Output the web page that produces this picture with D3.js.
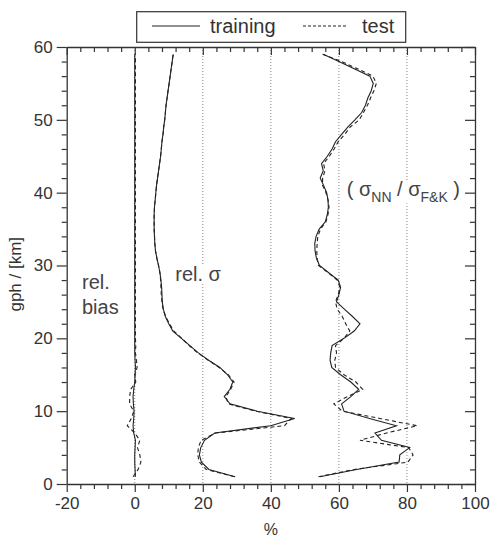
<!DOCTYPE html>
<html>
<head>
<meta charset="utf-8">
<script src="https://cdn.jsdelivr.net/npm/d3@7"></script>
<style>
  body { margin: 0; background: #fff; }
  svg { font-family: "Liberation Sans", Arial, sans-serif; }
</style>
</head>
<body>
<div id="chart"></div>
<script>
// altitude levels (km)
const gph = d3.range(1, 60);

// relative bias (%)
const biasTrain = [0.2, 0.1, 0.0, 0.0, 0.1, 0.2, -0.3, -0.5, -0.3, -0.2,
  -0.4, -0.5, -0.3, 0.0, 0.1, 0.2, 0.1, 0.0, 0.0, 0.0,
  0.0, 0.0, 0.0, 0.0, 0.0, 0.0, 0.0, 0.0, 0.0, 0.0,
  0.0, 0.0, 0.0, 0.0, 0.0, 0.0, 0.0, 0.0, 0.0, 0.0,
  0.0, 0.0, 0.0, 0.0, 0.0, 0.0, 0.0, 0.0, 0.0, 0.0,
  0.0, 0.0, 0.0, 0.0, 0.0, 0.0, 0.0, 0.0, 0.0];
const biasTest = [-0.5, 1.0, 1.8, 1.5, 0.8, 1.5, 0.0, -2.2, -1.0, -0.3,
  -1.5, -1.5, -1.2, 0.3, 0.0, 0.7, 0.5, 0.2, 0.3, 0.2,
  0.2, 0.2, 0.2, 0.2, 0.2, 0.2, 0.2, 0.2, 0.2, 0.2,
  0.2, 0.2, 0.2, 0.2, 0.2, 0.2, 0.2, 0.2, 0.2, 0.2,
  0.2, 0.2, 0.2, 0.2, 0.2, 0.2, 0.2, 0.2, 0.2, 0.2,
  0.2, 0.2, 0.2, 0.2, 0.2, 0.2, 0.2, 0.2, 0.2];

// relative sigma (%)
const sigmaTrain = [29.5, 21.8, 19.6, 19.0, 19.4, 20.5, 23.5, 40.0, 47.0, 36.0,
  28.0, 26.3, 28.0, 28.8, 27.3, 25.0, 21.7, 18.7, 16.2, 13.7,
  11.2, 10.0, 9.0, 8.4, 8.1, 8.0, 7.9, 7.7, 7.4, 7.0,
  6.5, 6.1, 5.9, 5.8, 5.7, 5.7, 5.7, 5.8, 6.0, 6.2,
  6.4, 6.7, 7.0, 7.3, 7.6, 7.8, 8.0, 8.3, 8.5, 8.8,
  9.0, 9.2, 9.5, 9.8, 10.1, 10.4, 10.7, 11.0, 11.3];
const sigmaTest = [29.3, 21.0, 19.0, 18.5, 18.7, 19.5, 23.8, 44.0, 46.0, 35.5,
  27.5, 26.8, 28.2, 29.2, 27.5, 24.8, 21.6, 18.5, 16.0, 13.8,
  11.5, 10.2, 9.1, 8.3, 8.0, 7.8, 7.7, 7.6, 7.4, 7.0,
  6.5, 6.1, 5.9, 5.8, 5.7, 5.7, 5.7, 5.8, 6.0, 6.2,
  6.4, 6.7, 7.0, 7.3, 7.6, 7.8, 8.0, 8.3, 8.5, 8.8,
  9.0, 9.2, 9.5, 9.8, 10.1, 10.4, 10.7, 11.0, 11.3];

// ratio sigma_NN / sigma_F&K (%)
const ratioTrain = [54.4, 65.2, 77.7, 77.9, 80.8, 72.5, 70.6, 76.9, 69.0, 61.5,
  60.8, 63.5, 65.8, 63.5, 60.5, 57.9, 57.4, 57.6, 58.0, 61.5,
  64.5, 66.2, 64.0, 61.6, 59.3, 60.0, 60.5, 59.8, 57.0, 54.3,
  53.4, 53.0, 52.9, 53.3, 54.2, 56.0, 56.6, 56.9, 56.8, 56.4,
  55.5, 54.5, 55.4, 54.9, 56.6, 58.0, 59.0, 60.8, 62.6, 64.7,
  66.7, 67.8, 68.5, 69.5, 70.1, 69.1, 64.5, 60.0, 55.4];
const ratioTest = [54.0, 64.5, 80.3, 81.8, 80.5, 66.2, 74.0, 83.0, 72.0, 61.0,
  58.5, 62.5, 67.0, 65.0, 61.5, 59.0, 58.8, 59.3, 59.0, 61.5,
  63.2, 62.0, 61.0, 59.5, 59.0, 59.8, 60.3, 59.5, 56.8, 54.0,
  53.6, 53.5, 53.6, 53.8, 54.6, 56.2, 56.8, 57.1, 56.8, 56.2,
  55.2, 55.2, 55.9, 55.5, 57.2, 58.6, 59.8, 61.7, 63.3, 66.0,
  67.2, 68.4, 69.3, 70.3, 71.0, 70.0, 65.5, 60.8, 55.2];

const xTicks = [-20, 0, 20, 40, 60, 80, 100];
const yTicks = [0, 10, 20, 30, 40, 50, 60];
const gridValues = [0, 20, 40, 60, 80];

const width = 490, height = 537;
const margin = { top: 47, right: 15, bottom: 53, left: 66.7 };
const plotW = width - margin.left - margin.right;
const plotH = height - margin.top - margin.bottom;

const svg = d3.select("#chart").append("svg")
  .attr("width", width)
  .attr("height", height);

const g = svg.append("g")
  .attr("transform", "translate(" + margin.left + "," + margin.top + ")");

const x = d3.scaleLinear().domain([-20, 100]).range([0, plotW]);
const y = d3.scaleLinear().domain([0, 60]).range([plotH, 0]);

const textColor = "#333";
const axisColor = "#333";

// dotted grid lines
g.selectAll(".grid")
  .data(gridValues)
  .enter()
  .append("line")
  .attr("class", "grid")
  .attr("x1", d => x(d))
  .attr("x2", d => x(d))
  .attr("y1", 0)
  .attr("y2", plotH)
  .style("stroke", "#888")
  .style("stroke-width", 1)
  .style("stroke-dasharray", "1,2");

// annotation labels with white backing
function label(px, py, build) {
  let t = g.append("text")
    .attr("x", px)
    .attr("y", py)
    .style("fill", "#444")
    .style("font-size", "20px");
  build(t);
  let bb = t.node().getBBox();
  g.insert("rect", "text")
    .attr("x", bb.x - 2)
    .attr("y", bb.y + 2)
    .attr("width", bb.width + 4)
    .attr("height", bb.height - 4)
    .style("fill", "#fff");
  return t;
}

label(x(-15.5), y(26.8), t => t.text("rel."));
label(x(-15.5), y(23.4), t => t.text("bias"));
label(x(11.9), y(27.9), t => {
  t.append("tspan").text("rel. ");
  t.append("tspan").text("σ");
});
label(x(62.3), y(39.5), t => {
  t.append("tspan").text("( σ");
  t.append("tspan").attr("dy", 6).style("font-size", "14px").text("NN");
  t.append("tspan").attr("dy", -6).text(" / σ");
  t.append("tspan").attr("dy", 6).style("font-size", "14px").text("F&K");
  t.append("tspan").attr("dy", -6).text(" )");
});

// curves
const line = vals => d3.line()
  .x((d, i) => x(vals[i]))
  .y(d => y(d))(gph);

const curves = [
  { vals: biasTrain, dash: null },
  { vals: biasTest, dash: "4,3" },
  { vals: sigmaTrain, dash: null },
  { vals: sigmaTest, dash: "4,3" },
  { vals: ratioTrain, dash: null },
  { vals: ratioTest, dash: "4,3" }
];

g.selectAll(".curve")
  .data(curves)
  .enter()
  .append("path")
  .attr("class", "curve")
  .attr("d", d => line(d.vals))
  .style("fill", "none")
  .style("stroke", "#222")
  .style("stroke-width", 1.1)
  .style("stroke-dasharray", d => d.dash);

// axes
const xMinor = d3.range(-20, 101, 4).filter(v => xTicks.indexOf(v) < 0);
const yMinor = d3.range(0, 61, 2).filter(v => yTicks.indexOf(v) < 0);

function styleAxis(sel) {
  sel.select(".domain").style("stroke", axisColor).style("stroke-width", 1.3);
  sel.selectAll(".tick line").style("stroke", axisColor).style("stroke-width", 1.2);
  sel.selectAll(".tick text")
    .style("fill", textColor)
    .style("font-size", "17px")
    .style("font-family", "'Liberation Sans', Arial, sans-serif");
}

const plain = d => String(d);

// bottom
g.append("g")
  .attr("transform", "translate(0," + plotH + ")")
  .call(d3.axisBottom(x).tickValues(xTicks).tickFormat(plain).tickSize(8).tickSizeOuter(0).tickPadding(5))
  .call(styleAxis);
g.append("g")
  .attr("transform", "translate(0," + plotH + ")")
  .call(d3.axisBottom(x).tickValues(xMinor).tickSize(5).tickFormat(""))
  .call(sel => sel.select(".domain").remove())
  .call(styleAxis);

// top (inward)
g.append("g")
  .call(d3.axisTop(x).tickValues(xTicks).tickSize(-8).tickSizeOuter(0).tickFormat(""))
  .call(styleAxis);
g.append("g")
  .call(d3.axisTop(x).tickValues(xMinor).tickSize(-5).tickFormat(""))
  .call(sel => sel.select(".domain").remove())
  .call(styleAxis);

// left
g.append("g")
  .call(d3.axisLeft(y).tickValues(yTicks).tickFormat(plain).tickSize(10).tickSizeOuter(0).tickPadding(4))
  .call(styleAxis);
g.append("g")
  .call(d3.axisLeft(y).tickValues(yMinor).tickSize(5).tickFormat(""))
  .call(sel => sel.select(".domain").remove())
  .call(styleAxis);

// right (inward)
g.append("g")
  .attr("transform", "translate(" + plotW + ",0)")
  .call(d3.axisRight(y).tickValues(yTicks).tickSize(-10).tickSizeOuter(0).tickFormat(""))
  .call(styleAxis);
g.append("g")
  .attr("transform", "translate(" + plotW + ",0)")
  .call(d3.axisRight(y).tickValues(yMinor).tickSize(-5).tickFormat(""))
  .call(sel => sel.select(".domain").remove())
  .call(styleAxis);

// axis titles
svg.append("text")
  .attr("transform", "translate(21," + (margin.top + y(28.8)) + ") rotate(-90)")
  .style("text-anchor", "middle")
  .style("fill", textColor)
  .style("font-size", "17px")
  .text("gph / [km]");

svg.append("text")
  .attr("x", margin.left + x(40))
  .attr("y", 535)
  .style("text-anchor", "middle")
  .style("fill", textColor)
  .style("font-size", "16px")
  .text("%");

// legend
const legend = svg.append("g");
legend.append("rect")
  .attr("x", 136.7)
  .attr("y", 11.7)
  .attr("width", 269)
  .attr("height", 30.6)
  .style("fill", "#fff")
  .style("stroke", "#333")
  .style("stroke-width", 1.2);

const legendItems = [
  { name: "training", dash: null, x0: 152, x1: 200, tx: 210 },
  { name: "test", dash: "3,2", x0: 303, x1: 348, tx: 362 }
];
legendItems.forEach(d => {
  legend.append("line")
    .attr("x1", d.x0).attr("x2", d.x1)
    .attr("y1", 26).attr("y2", 26)
    .style("stroke", "#222")
    .style("stroke-width", 1.1)
    .style("stroke-dasharray", d.dash);
  legend.append("text")
    .attr("x", d.tx)
    .attr("y", 33)
    .style("fill", textColor)
    .style("font-size", "20px")
    .text(d.name);
});
</script>
</body>
</html>
